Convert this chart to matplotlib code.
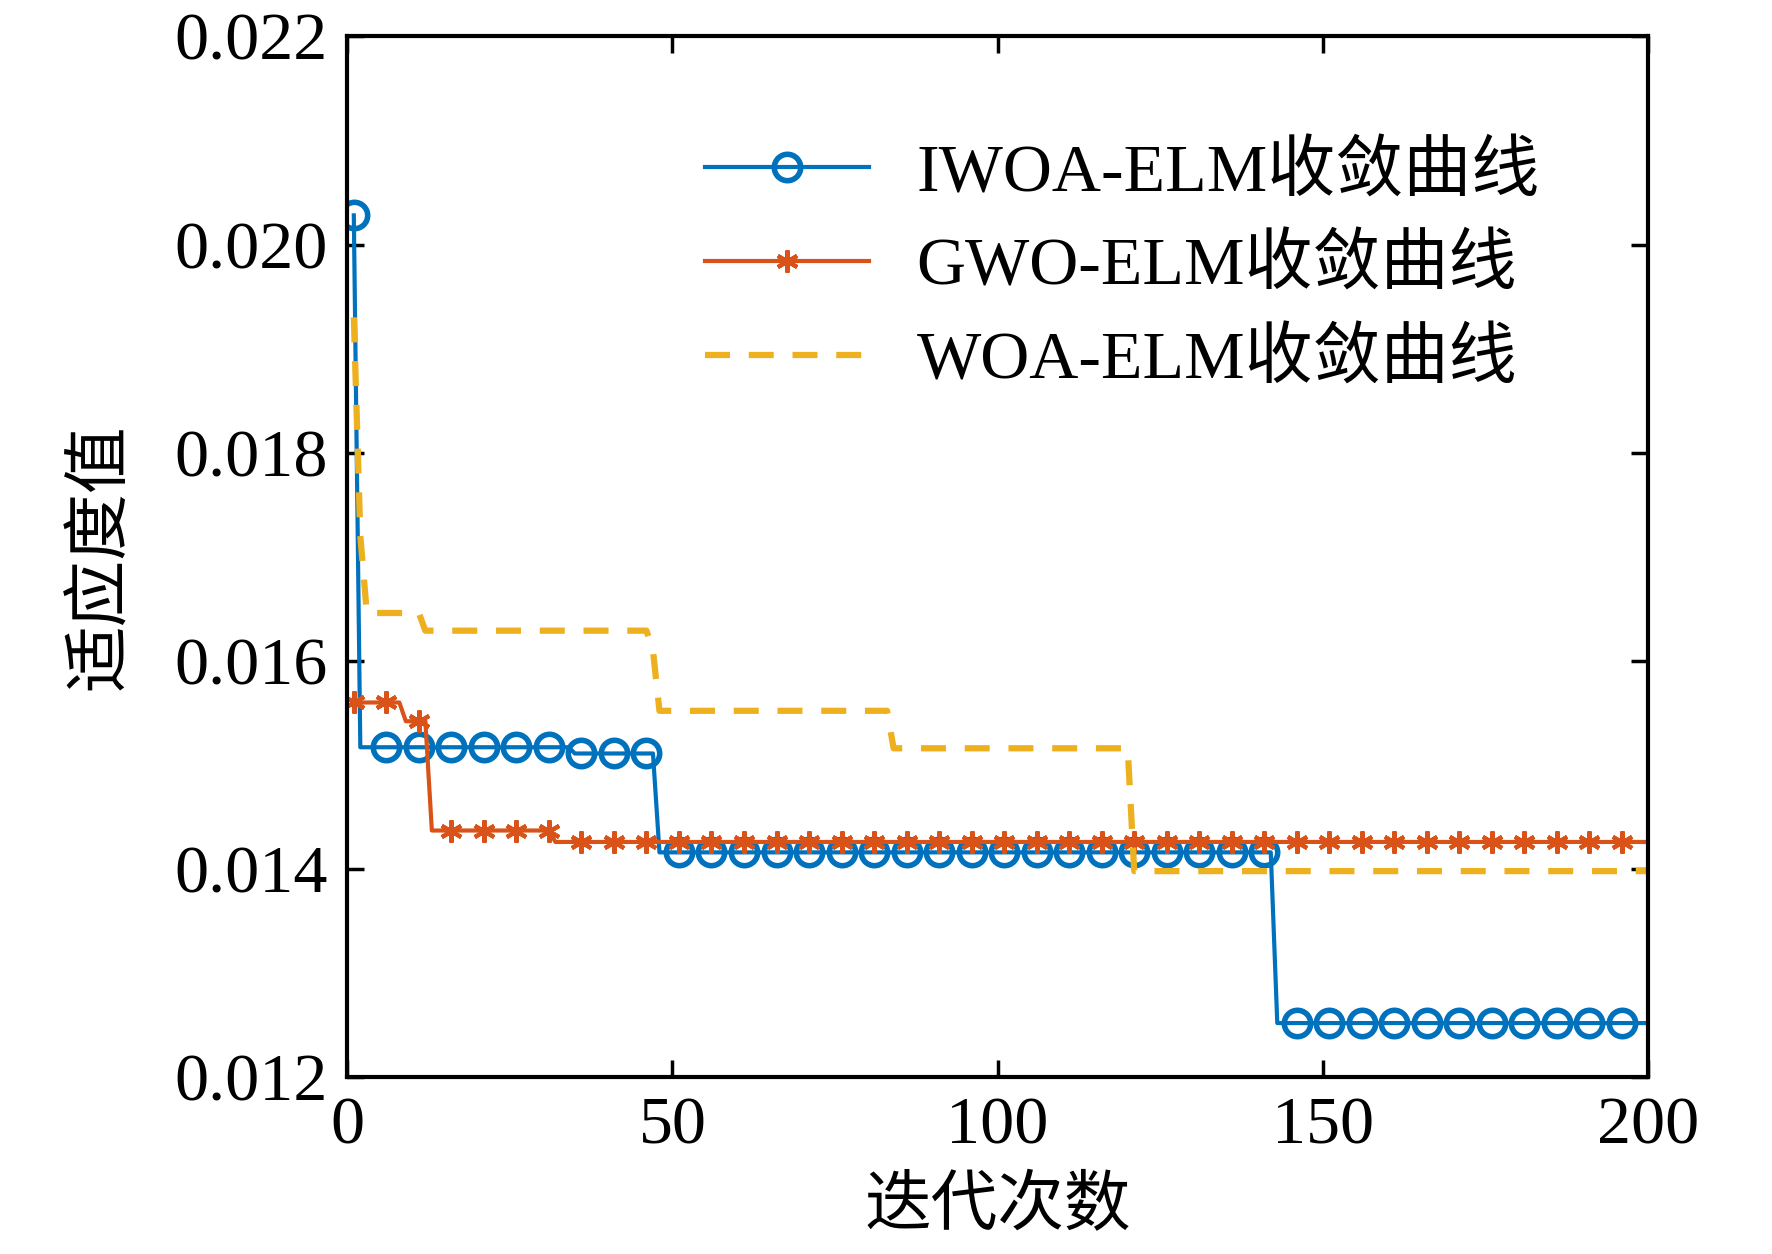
import numpy as np
import matplotlib.pyplot as plt

plt.rcParams['font.family'] = ['Liberation Serif', 'Noto Sans CJK SC']

iwoa_levels = [0.02028, 0.01517, 0.01511, 0.01416, 0.01252]
iwoa_counts = [1, 33, 13, 95, 58]
gwo_levels = [0.01560, 0.01542, 0.01437, 0.01426]
gwo_counts = [8, 4, 19, 169]
woa_levels = [0.0193, 0.0172, 0.01646, 0.01629, 0.0161, 0.01552, 0.01516, 0.01398]
woa_counts = [1, 1, 9, 35, 1, 36, 37, 80]

it = np.arange(1, 201)
iwoa = np.repeat(iwoa_levels, iwoa_counts)
gwo = np.repeat(gwo_levels, gwo_counts)
woa = np.repeat(woa_levels, woa_counts)

fig = plt.figure(figsize=(17.72, 12.54), dpi=100)
ax = fig.add_axes([0.196, 0.141, 0.734, 0.830])

ax.plot(it, iwoa, color='#0072BD', lw=3, marker='o', markersize=19,
        markerfacecolor='none', markeredgewidth=4, markevery=5,
        label='IWOA-ELM收敛曲线')
ax.plot(it, gwo, color='#D95319', lw=3, marker=(6, 2, 0), markersize=16,
        markeredgewidth=3, markevery=5, label='GWO-ELM收敛曲线')
ax.plot(it, woa, color='#EDB120', lw=4.5, ls=(0, (4, 3)),
        label='WOA-ELM收敛曲线')

ax.set_xlim(0, 200)
ax.set_ylim(0.012, 0.022)
ax.set_xticks([0, 50, 100, 150, 200])
ax.set_yticks([0.012, 0.014, 0.016, 0.018, 0.020, 0.022])
ax.set_yticklabels(['0.012', '0.014', '0.016', '0.018', '0.020', '0.022'])
ax.tick_params(direction='in', top=True, right=True, length=12, width=2.5,
               labelsize=49, pad=14)
for s in ax.spines.values():
    s.set_linewidth(3)

ax.set_xlabel('迭代次数', fontsize=48, labelpad=14)
ax.set_ylabel('适应度值', fontsize=48, labelpad=30)

ax.legend(loc='upper right', frameon=False, fontsize=49, handlelength=2.4,
          borderaxespad=1.0, labelspacing=0.45, handletextpad=0.7,
          bbox_to_anchor=(0.99, 0.99))

fig.savefig('out.png', dpi=100)
